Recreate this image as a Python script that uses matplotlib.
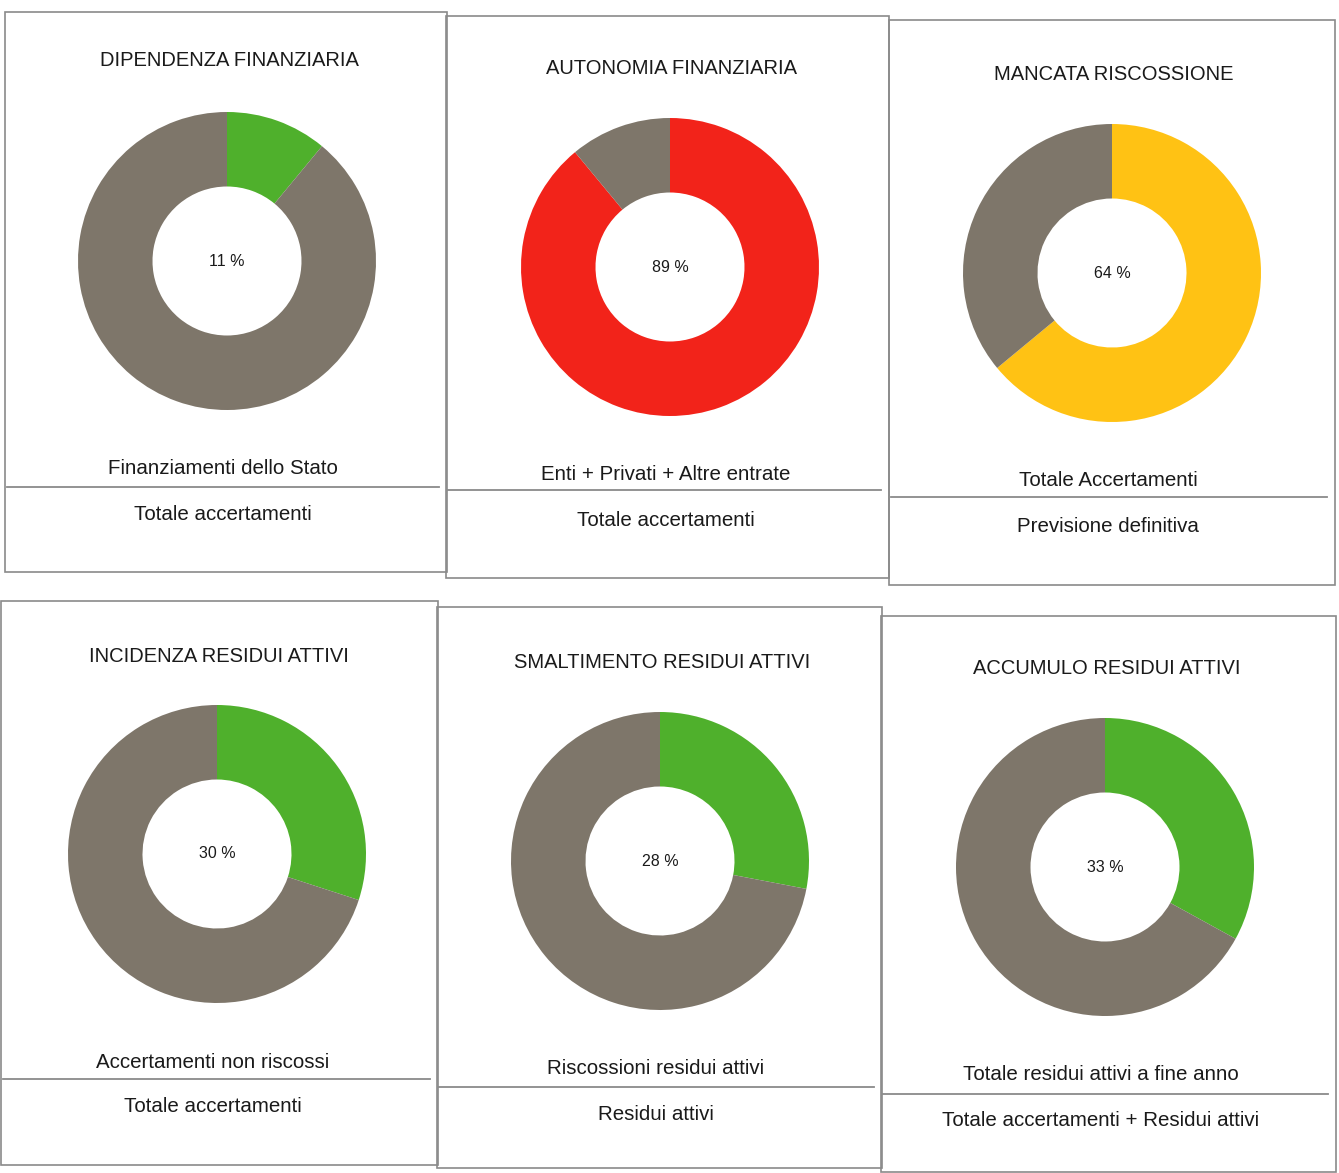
import matplotlib
matplotlib.use("Agg")
import matplotlib.pyplot as plt
from matplotlib.patches import Rectangle

plt.rcParams['font.family'] = ['Liberation Sans', 'DejaVu Sans']

# indicator data
titles = ["DIPENDENZA FINANZIARIA", "AUTONOMIA FINANZIARIA", "MANCATA RISCOSSIONE",
          "INCIDENZA RESIDUI ATTIVI", "SMALTIMENTO RESIDUI ATTIVI", "ACCUMULO RESIDUI ATTIVI"]
values = [11, 89, 64, 30, 28, 33]
seg_colors = ["#4fb02c", "#f2231a", "#ffc214", "#4fb02c", "#4fb02c", "#4fb02c"]
numerators = ["Finanziamenti dello Stato", "Enti + Privati + Altre entrate", "Totale Accertamenti",
              "Accertamenti non riscossi", "Riscossioni residui attivi", "Totale residui attivi a fine anno"]
denominators = ["Totale accertamenti", "Totale accertamenti", "Previsione definitiva",
                "Totale accertamenti", "Residui attivi", "Totale accertamenti + Residui attivi"]
rest_color = "#7e766a"

W, H = 1339, 1173
fig = plt.figure(figsize=(W / 100, H / 100), dpi=100)
bg = fig.add_axes([0, 0, 1, 1])
bg.set_xlim(0, W)
bg.set_ylim(H, 0)
bg.axis("off")

# panel layout in pixels: box (x0, y0, x1, y1), donut centre, title y, numerator y, line y, denominator y
boxes = [(5, 12, 447, 572), (446, 16, 889, 578), (889, 20, 1335, 585),
         (1, 601, 438, 1165), (437, 607, 882, 1168), (881, 616, 1336, 1172)]
centres = [(227, 261), (670, 267), (1112, 273), (217, 854), (660, 861), (1105, 867)]
title_y = [61, 68, 74, 657, 663, 669]
num_y = [468, 475, 480, 1062, 1068, 1075]
line_y = [487, 490, 497, 1079, 1087, 1094]
den_y = [514, 520, 526, 1107, 1114, 1120]
r = 149
edge = "#8a8a8a"

for i in range(6):
    x0, y0, x1, y1 = boxes[i]
    bg.add_patch(Rectangle((x0, y0), x1 - x0, y1 - y0, fill=False, ec=edge, lw=1.2))
    bg.plot([x0 + 2, x1 - 8], [line_y[i], line_y[i]], color=edge, lw=1.3)
    cx, cy = centres[i]
    bg.text(cx + 2, title_y[i], titles[i], ha="center", va="center", fontsize=14.5, color="#1a1a1a")
    bg.text(cx - 4, num_y[i], numerators[i], ha="center", va="center", fontsize=14.8, color="#1a1a1a")
    bg.text(cx - 4, den_y[i], denominators[i], ha="center", va="center", fontsize=14.8, color="#1a1a1a")

    ax = fig.add_axes([(cx - r) / W, 1 - (cy + r) / H, 2 * r / W, 2 * r / H])
    ax.pie([values[i], 100 - values[i]], colors=[seg_colors[i], rest_color], startangle=90,
           counterclock=False, radius=1, wedgeprops=dict(width=0.5, linewidth=0))
    ax.set_xlim(-1, 1)
    ax.set_ylim(-1, 1)
    ax.set_aspect("equal")
    ax.axis("off")
    ax.text(0, 0, str(values[i]) + " %", ha="center", va="center", fontsize=11.5, color="#1a1a1a")

fig.savefig("out.png", dpi=100)
